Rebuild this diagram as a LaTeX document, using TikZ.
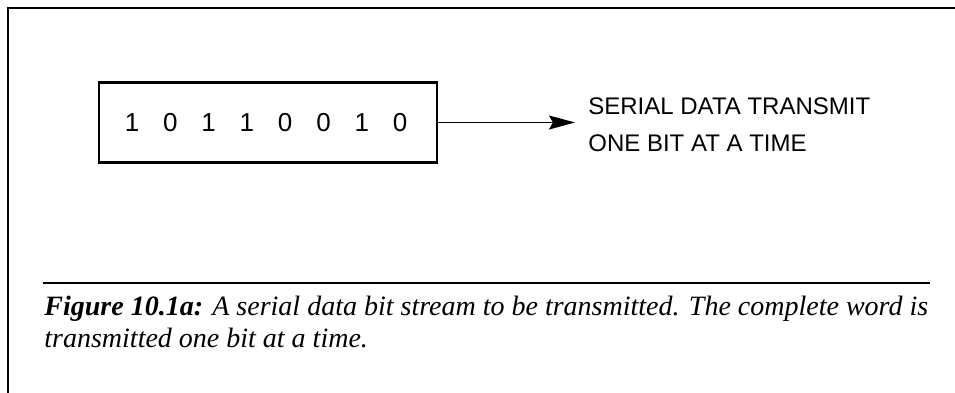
\documentclass[tikz,border=0pt]{standalone}
\usepackage{fontspec}
\setmainfont{Liberation Serif}
\setsansfont{Liberation Sans}
\usetikzlibrary{positioning,arrows.meta}

\tikzset{
	bitbox/.style={draw, line width=1.3pt, minimum width=169pt, minimum height=40pt, inner sep=0pt},
	bit/.style={font=\sffamily\fontsize{13}{14}\selectfont, inner sep=0pt},
	note/.style={font=\sffamily\fontsize{12}{18.5}\selectfont, align=left, inner sep=0pt},
	caption/.style={font=\fontsize{14}{16}\selectfont\itshape, align=left, inner sep=0pt}
}

\begin{document}
\begin{tikzpicture}[x=0.5pt,y=-0.5pt]
			\clip (0,0) rectangle (955,392);

			% Draw frame (open at right and bottom)
			\draw[line width=1.2pt] (8,400) -- (8,8) -- (965,8);

			% Draw word box and its bits
			\node[bitbox] (word) at (268,122.5) {};
			\foreach \b [count=\i from 0] in {1,0,1,1,0,0,1,0}
				\node[bit] (bit\i) at (132+38.3*\i,122.5) {\b};

			% Draw arrow and its label
			\coordinate (tip) at (575,122.5);
			\draw[line width=0.8pt,-{Stealth[length=13pt,width=7pt,inset=2pt]}] (word.east) -- (tip);
			\node[note, anchor=north west] (label) at (588,97) {SERIAL DATA TRANSMIT\\ONE BIT AT A TIME};

			% Draw rule and caption
			\coordinate (ruleL) at (43,283);
			\coordinate (ruleR) at (930,283);
			\draw[line width=0.9pt] (ruleL) -- (ruleR);
			\node[caption, anchor=base west] (cap) at (44,347) {\textbf{Figure 10.1a:} A serial data bit stream to be transmitted. The complete word is\\transmitted one bit at a time.};
		\end{tikzpicture}
\end{document}
